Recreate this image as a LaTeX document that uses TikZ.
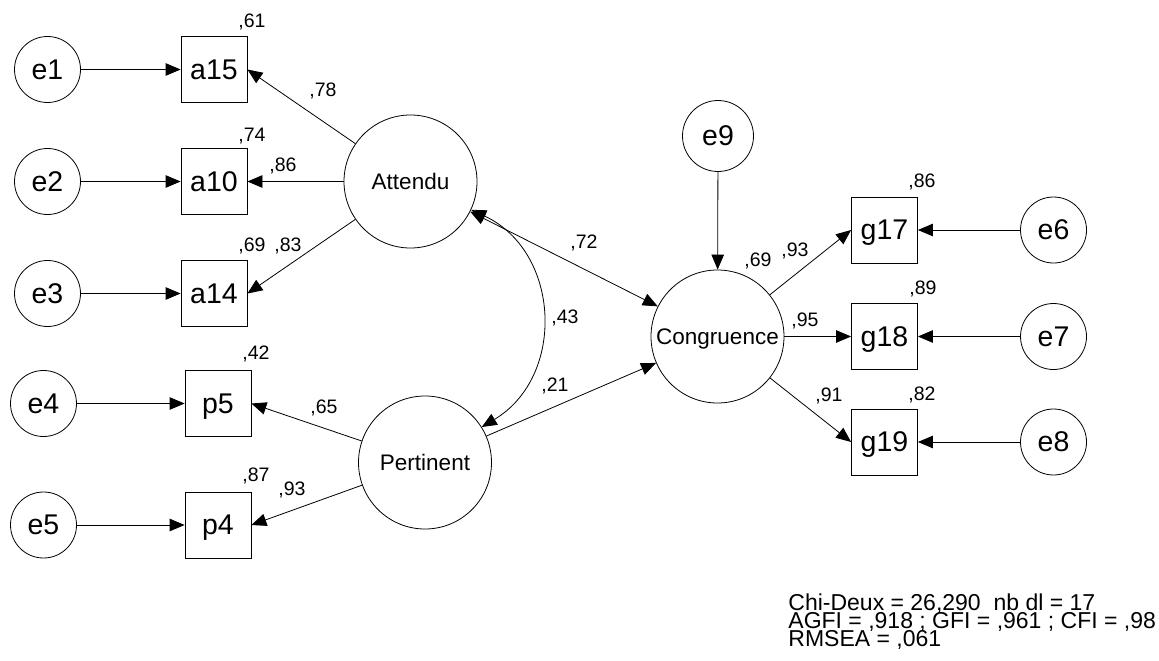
\documentclass[tikz,border=0pt]{standalone}
\usepackage{fontspec}
\setmainfont{Liberation Sans}
\usetikzlibrary{arrows.meta}
\newcommand\statfont{\fontsize{23}{18}\selectfont\lineskiplimit=-50pt\relax}

\begin{document}
\begin{tikzpicture}
                        [x=1pt,y=-1pt,line width=0.8pt,
                         >={Triangle[length=15pt,width=12.5pt]},
                         err/.style={draw,circle,minimum size=66pt,inner sep=0pt,text depth=0pt,font=\fontsize{28.5}{30}\selectfont},
                         obs/.style={draw,rectangle,minimum size=66pt,inner sep=0pt,text depth=0pt,font=\fontsize{28.5}{30}\selectfont},
                         lat/.style={draw,circle,minimum size=133pt,inner sep=0pt,text depth=0pt,font=\fontsize{22.5}{24}\selectfont},
                         lbl/.style={inner sep=0pt,text depth=0pt,font=\fontsize{19.5}{21}\selectfont},
                         stat/.style={inner sep=0pt,anchor=north west,align=left,font=\statfont}]
                        \useasboundingbox (0,0) rectangle (1159,661);
                        \node[err] (e1) at (47.5,69.5) {e1};
                        \node[err] (e2) at (47.5,181.5) {e2};
                        \node[err] (e3) at (47.5,293.5) {e3};
                        \node[err] (e4) at (43.5,403.5) {e4};
                        \node[err] (e5) at (43.5,525) {e5};
                        \node[obs] (a15) at (214,69.5) {a15};
                        \node[obs] (a10) at (214,181.5) {a10};
                        \node[obs] (a14) at (214,293.5) {a14};
                        \node[obs] (p5) at (218,403.5) {p5};
                        \node[obs] (p4) at (218,525) {p4};
                        \node[lat] (att) at (410.5,181.5) {Attendu};
                        \node[lat] (pert) at (425,462.5) {Pertinent};
                        \node[lat] (cong) at (717.5,336.5) {Congruence};
                        \node[err,minimum size=71pt] (e9) at (718,136) {e9};
                        \node[obs] (g17) at (884.5,230) {g17};
                        \node[obs] (g18) at (884.5,336.5) {g18};
                        \node[obs] (g19) at (884.5,442) {g19};
                        \node[err] (e6) at (1053.5,230) {e6};
                        \node[err] (e7) at (1053.5,336.5) {e7};
                        \node[err] (e8) at (1053.5,442) {e8};
                        \foreach \from/\to in {e1/a15,e2/a10,e3/a14,e4/p5,e5/p4,e6/g17,e7/g18,e8/g19,e9/cong,cong/g18,pert/cong}
                        \draw[->] (\from) -- (\to);
                        \foreach \to in {a15,a10,a14}
                        \draw[->] (att) -- (\to.east);
                        \foreach \to in {p5,p4}
                        \draw[->] (pert) -- (\to.east);
                        \foreach \to in {g17,g19}
                        \draw[->] (cong) -- (\to.west);
                        \draw[<->] (att) -- (cong);
                        \draw[<->] (att.-25) .. controls (560.5,251.4) and (566.3,376.3) .. (pert.32);
                        \node[lbl] (r61) at (252,21) {,61};
                        \node[lbl] (r74) at (252,135) {,74};
                        \node[lbl] (r69a) at (252,245) {,69};
                        \node[lbl] (r42) at (256,353) {,42};
                        \node[lbl] (r87) at (256,475) {,87};
                        \node[lbl] (r69b) at (758,260) {,69};
                        \node[lbl] (r86) at (922,181) {,86};
                        \node[lbl] (r89) at (923,287.5) {,89};
                        \node[lbl] (r82) at (922,394) {,82};
                        \node[lbl] (w78) at (323,90) {,78};
                        \node[lbl] (w86) at (283,165) {,86};
                        \node[lbl] (w83) at (288,245) {,83};
                        \node[lbl] (w65) at (324,407) {,65};
                        \node[lbl] (w93a) at (292,489) {,93};
                        \node[lbl] (w72) at (584,242) {,72};
                        \node[lbl] (w43) at (565,317) {,43};
                        \node[lbl] (w21) at (555,385) {,21};
                        \node[lbl] (w93b) at (795,250) {,93};
                        \node[lbl] (w95) at (805,320) {,95};
                        \node[lbl] (w91) at (829,395) {,91};
                        \node[stat] (fit) at (788,593.2) {Chi-Deux = 26,290\ \ nb dl = 17\\AGFI = ,918 ; GFI = ,961 ; CFI = ,98\\RMSEA = ,061};
                    \end{tikzpicture}
\end{document}
